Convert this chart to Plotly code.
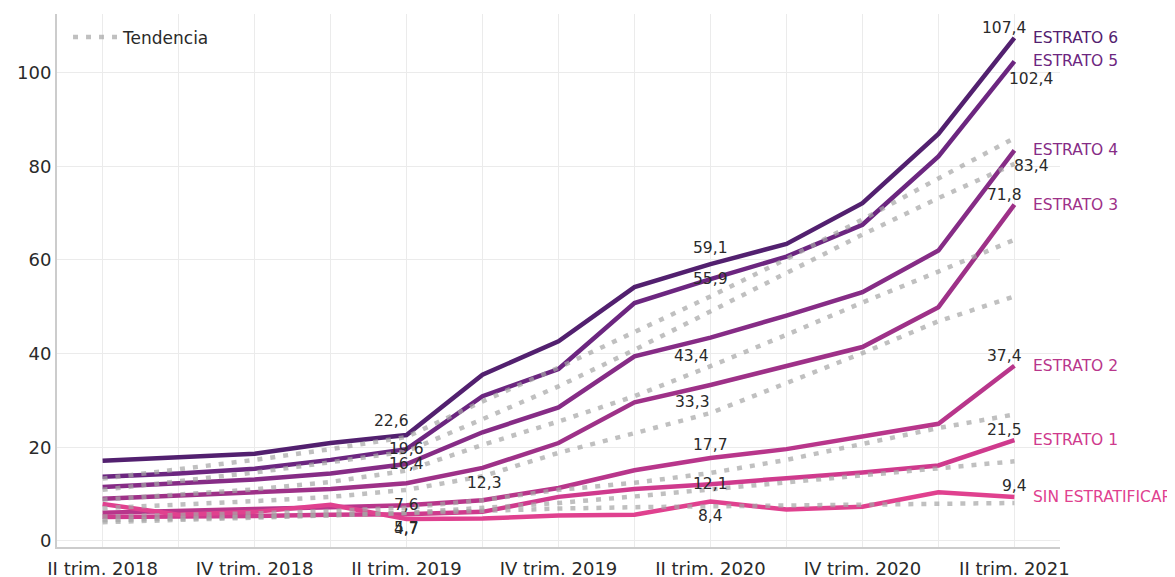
import plotly.graph_objects as go

categories = ["II trim. 2018", "III trim. 2018", "IV trim. 2018", "I trim. 2019",
              "II trim. 2019", "III trim. 2019", "IV trim. 2019", "I trim. 2020",
              "II trim. 2020", "III trim. 2020", "IV trim. 2020", "I trim. 2021",
              "II trim. 2021"]

series_names = ["ESTRATO 6", "ESTRATO 5", "ESTRATO 4", "ESTRATO 3",
                "ESTRATO 2", "ESTRATO 1", "SIN ESTRATIFICAR"]

estrato6 = [17.1, 17.9, 18.6, 20.9, 22.6, 35.5, 42.6, 54.2, 59.1, 63.4, 72.1, 86.9, 107.4]
estrato5 = [13.7, 14.4, 15.4, 17.3, 19.6, 30.9, 36.7, 50.8, 55.9, 60.7, 67.5, 82.1, 102.4]
estrato4 = [11.5, 12.2, 13.1, 14.4, 16.4, 23.2, 28.5, 39.4, 43.4, 48.1, 53.1, 62.0, 83.4]
estrato3 = [9.0, 9.7, 10.2, 11.1, 12.3, 15.6, 20.9, 29.6, 33.3, 37.3, 41.4, 49.9, 71.8]
estrato2 = [6.0, 6.5, 6.8, 7.2, 7.6, 8.7, 11.3, 15.1, 17.7, 19.6, 22.2, 25.0, 37.4]
estrato1 = [5.1, 5.1, 5.3, 5.6, 5.7, 6.2, 9.4, 11.1, 12.1, 13.4, 14.6, 16.1, 21.5]
sin_estratificar = [7.9, 5.6, 6.2, 7.7, 4.7, 4.8, 5.4, 5.6, 8.4, 6.7, 7.3, 10.4, 9.4]

tend_a = [13.3, 15.3, 17.3, 19.6, 22.2, 29.8, 37.0, 44.6, 52.2, 60.2, 68.6, 77.4, 86.0]
tend_b = [10.9, 12.7, 14.6, 16.8, 19.1, 26.0, 33.0, 40.8, 49.0, 57.2, 65.4, 73.2, 80.5]
tend_c = [8.8, 9.9, 11.0, 12.6, 15.0, 20.5, 25.5, 30.9, 37.3, 44.0, 50.9, 57.5, 64.3]
tend_d = [7.0, 7.7, 8.5, 9.4, 10.9, 13.8, 18.8, 23.0, 27.3, 33.7, 40.1, 46.9, 52.2]
tend_e = [5.2, 5.5, 5.9, 6.4, 7.1, 8.7, 10.9, 12.4, 14.5, 17.3, 20.6, 24.1, 27.0]
tend_f = [4.4, 4.7, 5.1, 5.5, 6.0, 7.0, 8.1, 9.5, 11.0, 12.3, 13.8, 15.5, 17.0]
tend_g = [4.0, 4.5, 5.0, 5.5, 6.0, 6.5, 6.9, 7.2, 7.4, 7.5, 7.7, 7.9, 8.1]

y_ticks = [0, 20, 40, 60, 80, 100]
x_tick_labels = [c if i % 2 == 0 else "" for i, c in enumerate(categories)]

series_values = [estrato6, estrato5, estrato4, estrato3, estrato2, estrato1, sin_estratificar]
trend_values = [tend_a, tend_b, tend_c, tend_d, tend_e, tend_f, tend_g]

colors = ["#52206f", "#6c2680", "#862c86", "#9e3188", "#b8368b", "#cf3a8d", "#e0418f"]

# label offsets (x px, y px) for points at indices 4, 8, 12
label_offsets = {
    0: {4: (-15, -14), 8: (0, -16), 12: (-10, -10)},
    1: {4: (0, 0), 8: (0, 0), 12: (17, 18)},
    2: {4: (0, 0), 8: (-19, 18), 12: (17, 16)},
    3: {4: (78, 0), 8: (-18, 17), 12: (-10, -10)},
    4: {4: (0, 0), 8: (0, -13), 12: (-10, -10)},
    5: {4: (0, 14), 8: (0, 0), 12: (-10, -10)},
    6: {4: (0, 10), 8: (0, 14), 12: (0, -11)},
}

fig = go.Figure()

for name, vals, col in zip(series_names, series_values, colors):
    fig.add_trace(go.Scatter(x=categories, y=vals, mode="lines", name=name,
                             line=dict(color=col, width=4.5), showlegend=False))

for i, tv in enumerate(trend_values):
    fig.add_trace(go.Scatter(x=categories, y=tv, mode="lines", name="Tendencia",
                             legendgroup="t", showlegend=(i == 0),
                             line=dict(color="rgba(165,165,165,0.7)", width=4.5,
                                       dash="5px,8px")))

annotations = []
for si, (name, vals, col) in enumerate(zip(series_names, series_values, colors)):
    for idx, (dx, dy) in label_offsets[si].items():
        v = vals[idx]
        annotations.append(dict(
            x=categories[idx], y=v, text=f"{v:.1f}".replace(".", ","),
            showarrow=False, xshift=dx, yshift=-dy,
            font=dict(size=15.5, color="#2a2a2a", family="DejaVu Sans"),
            xanchor="center", yanchor="middle"))
    annotations.append(dict(
        x=categories[-1], y=vals[-1], text=name, showarrow=False,
        xanchor="left", yanchor="middle", xshift=17,
        font=dict(size=15.5, color=col, family="DejaVu Sans")))

# The page body has an 8px default margin; margins are offset to compensate
fig.update_layout(
    width=1175, height=577,
    margin=dict(l=49, r=123, t=6, b=38, autoexpand=False),
    paper_bgcolor="white", plot_bgcolor="white",
    font=dict(family="DejaVu Sans", size=17, color="#2a2a2a"),
    annotations=annotations,
    legend=dict(x=0.011, y=0.99, xanchor="left", yanchor="top", itemwidth=45,
                bgcolor="rgba(0,0,0,0)", font=dict(size=17, color="#2a2a2a")),
    xaxis=dict(
        type="category", categoryorder="array", categoryarray=categories,
        tickmode="array", tickvals=categories, ticktext=x_tick_labels,
        range=[-0.6, 12.6], showgrid=True, gridcolor="#ebebeb", gridwidth=1,
        showline=True, linecolor="#cccccc", linewidth=2, ticks="", zeroline=False,
        automargin=False, ticklabelstandoff=4,
        tickfont=dict(size=18, color="#2a2a2a"),
    ),
    yaxis=dict(
        tickvals=y_ticks, range=[-1.3, 112.5], showgrid=True, gridcolor="#ebebeb",
        gridwidth=1, showline=True, linecolor="#cccccc", linewidth=2, ticks="",
        zeroline=False, automargin=False, tickfont=dict(size=18, color="#2a2a2a"),
    ),
)

fig.write_html("out.html")
